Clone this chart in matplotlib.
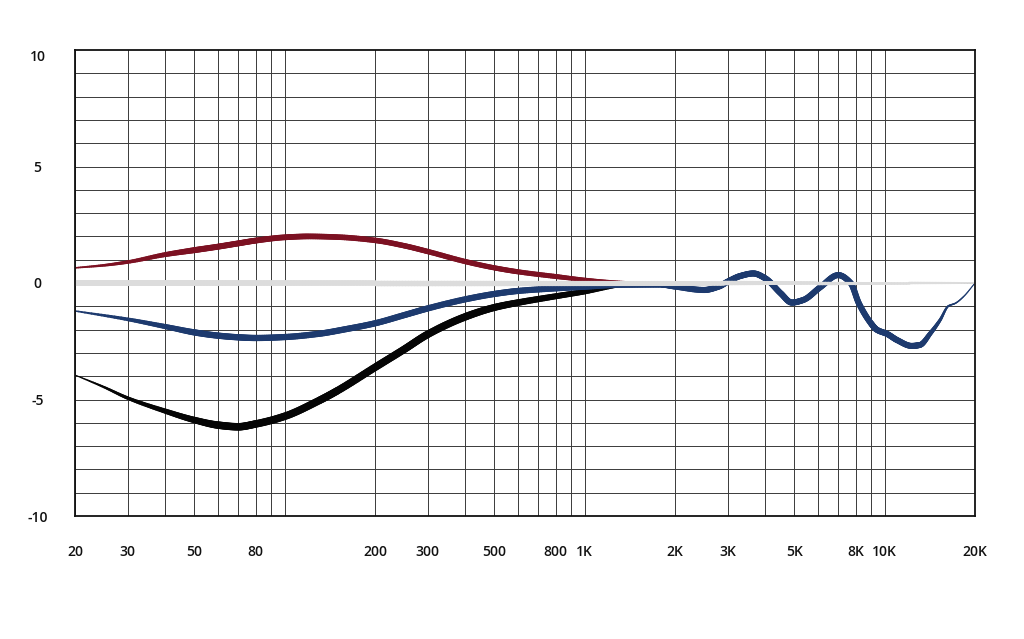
import numpy as np
import matplotlib
matplotlib.use("Agg")
import matplotlib.pyplot as plt
from matplotlib.collections import LineCollection
from matplotlib.ticker import FixedLocator, NullLocator, NullFormatter

# ---------------- data ----------------
red_freq = [20, 25, 30, 40, 50, 60, 70, 80, 100, 120, 150, 200, 250, 300, 400,
            500, 600, 800, 1000, 1200, 1500]
red_db = [0.65, 0.76, 0.9, 1.22, 1.41, 1.56, 1.7, 1.82, 1.96, 2.0, 1.97, 1.83,
          1.6, 1.35, 0.92, 0.65, 0.48, 0.28, 0.14, 0.06, 0.0]

black_freq = [20, 25, 30, 40, 50, 60, 70, 80, 100, 130, 150, 200, 250, 300, 400,
              500, 600, 800, 1000, 1300, 1500]
black_db = [-3.95, -4.47, -4.94, -5.5, -5.88, -6.1, -6.17, -6.05, -5.72, -5.05,
            -4.62, -3.62, -2.85, -2.2, -1.45, -1.05, -0.84, -0.57, -0.37, -0.1, 0.0]

blue_freq = [20, 30, 40, 50, 60, 70, 80, 100, 130, 160, 200, 250, 300, 400, 500,
             600, 800, 1000, 1300, 1800, 2000, 2500, 2800, 3000, 3300, 3650, 4000,
             4500, 4900, 5350, 6100, 7000, 7700, 8200, 9000, 9400, 10200, 11000,
             12300, 13100, 14200, 15300, 16300, 17200, 18300, 20000]
blue_db = [-1.2, -1.56, -1.87, -2.12, -2.26, -2.33, -2.36, -2.32, -2.18, -1.98,
           -1.73, -1.38, -1.09, -0.7, -0.47, -0.34, -0.23, -0.16, -0.08, -0.07,
           -0.15, -0.3, -0.15, 0.06, 0.3, 0.41, 0.2, -0.44, -0.84, -0.73, -0.18,
           0.34, 0.0, -0.87, -1.73, -2.0, -2.19, -2.45, -2.7, -2.66, -2.16, -1.59,
           -0.99, -0.87, -0.59, 0.0]

ref_freq = [20, 20000]
ref_db = [0.0, 0.0]

x_tick_values = [20, 30, 50, 80, 200, 300, 500, 800, 1000, 2000, 3000, 5000,
                 8000, 10000, 20000]
x_tick_labels = ["20", "30", "50", "80", "200", "300", "500", "800", "1K", "2K",
                 "3K", "5K", "8K", "10K", "20K"]
y_tick_values = [-10, -5, 0, 5, 10]
y_tick_labels = ["-10", "-5", "0", "5", "10"]

# ---------------- styling ----------------
PX = 0.72  # points per pixel at 100 dpi

def width_profile(knots_f, knots_px):
    lk = np.log10(knots_f)
    kp = np.asarray(knots_px) * PX
    return lambda f: np.interp(np.log10(f), lk, kp)

def pchip_render(x, y, n=12):
    """Shape-preserving cubic (Fritsch-Carlson) used only for drawing a smooth
    line through the read points."""
    x = np.asarray(x, float); y = np.asarray(y, float)
    h = np.diff(x); d = np.diff(y) / h
    m = np.zeros_like(y)
    if len(x) > 2:
        for i in range(1, len(x) - 1):
            if d[i - 1] * d[i] > 0:
                w1 = 2 * h[i] + h[i - 1]; w2 = h[i] + 2 * h[i - 1]
                m[i] = (w1 + w2) / (w1 / d[i - 1] + w2 / d[i])
        m[0] = d[0]; m[-1] = d[-1]
    else:
        m[:] = d[0]
    xs, ys = [], []
    for i in range(len(x) - 1):
        t = np.linspace(0, 1, n, endpoint=False)
        h00 = 2 * t**3 - 3 * t**2 + 1; h10 = t**3 - 2 * t**2 + t
        h01 = -2 * t**3 + 3 * t**2; h11 = t**3 - t**2
        xs.extend(x[i] + t * h[i])
        ys.extend(h00 * y[i] + h10 * h[i] * m[i] + h01 * y[i + 1] + h11 * h[i] * m[i + 1])
    xs.append(x[-1]); ys.append(y[-1])
    return np.array(xs), np.array(ys)

def tapered(ax, f, v, wfun, color, z, sub=16):
    lx, yy = pchip_render(np.log10(f), v, sub)
    pts = np.column_stack([10 ** lx, yy])
    segs = np.stack([pts[:-1], pts[1:]], axis=1)
    mids = np.sqrt(pts[:-1, 0] * pts[1:, 0])
    lc = LineCollection(segs, linewidths=wfun(mids), colors=color,
                        capstyle="round", joinstyle="round", zorder=z)
    ax.add_collection(lc)

fig = plt.figure(figsize=(10.24, 6.39), dpi=100)
ax = fig.add_axes([75 / 1024, (639 - 516) / 639, 900 / 1024, 466 / 639])
ax.set_xscale("log")
ax.set_xlim(20, 20000)
ax.set_ylim(-10, 10)

# grid
grid_x = [m * 10 ** e for e in range(1, 5) for m in range(1, 10)
          if 20 <= m * 10 ** e <= 20000]
for gx in grid_x:
    ax.axvline(gx, color="#3a3a3a", lw=0.7, zorder=1)
for gy in range(-9, 10):
    ax.axhline(gy, color="#3a3a3a", lw=0.7, zorder=1)

# curves
red_w = width_profile([20, 50, 800, 1500], [1.5, 6, 5, 2.5])
black_w = width_profile([20, 60, 400, 1000, 1500], [1.0, 7.5, 7.5, 5.5, 3])
blue_w = width_profile([20, 50, 13000, 15000, 16500, 20000], [1.5, 6.3, 6, 3.5, 1.6, 1.0])
ref_w = width_profile([20, 2000, 20000], [6, 5, 1.8])

tapered(ax, red_freq, red_db, red_w, "#7c1122", 3)
tapered(ax, black_freq, black_db, black_w, "#050505", 3)
tapered(ax, blue_freq, blue_db, blue_w, "#1d3a6e", 3)
tapered(ax, ref_freq, ref_db, ref_w, "#dcdcdc", 4, sub=300)

# ticks & labels
font = dict(family=["Open Sans", "DejaVu Sans"], weight="semibold", size=10)
ax.xaxis.set_major_locator(FixedLocator(x_tick_values))
ax.xaxis.set_minor_locator(NullLocator())
ax.xaxis.set_minor_formatter(NullFormatter())
ax.set_xticks(x_tick_values)
ax.set_xticklabels(x_tick_labels, fontdict=font, color="#111111")
ax.set_yticks(y_tick_values)
ax.set_yticklabels(y_tick_labels, fontdict=font, color="#111111", ha="center")
ax.tick_params(axis="x", length=0, pad=21)
ax.tick_params(axis="y", length=0, pad=27)
for lbl in ax.get_yticklabels():
    lbl.set_horizontalalignment("center")
ax.get_yticklabels()[-1].set_verticalalignment("top")

for s in ax.spines.values():
    s.set_color("#111111")
    s.set_linewidth(1.3)
    s.set_zorder(5)

fig.savefig("out.png", dpi=100, facecolor="white")
